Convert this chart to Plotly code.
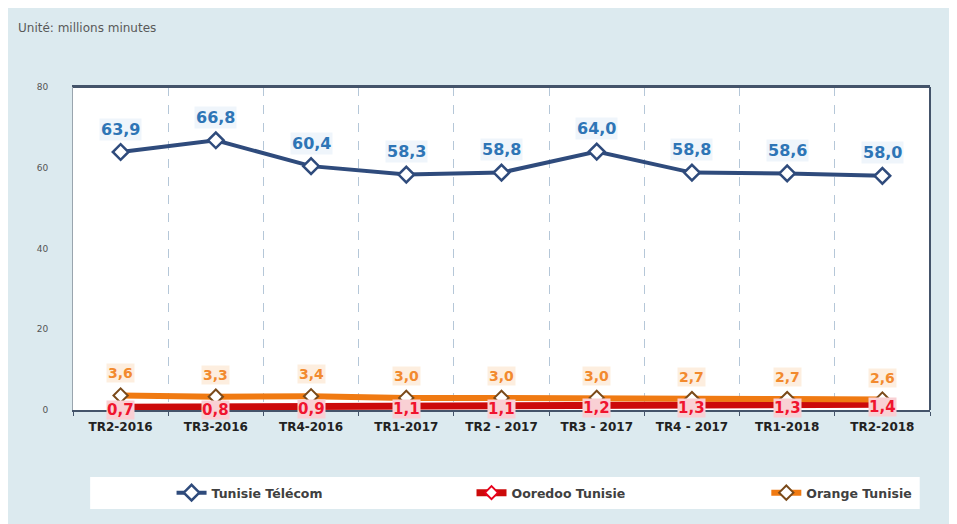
import plotly.graph_objects as go

categories = ["TR2-2016", "TR3-2016", "TR4-2016", "TR1-2017", "TR2 - 2017",
              "TR3 - 2017", "TR4 - 2017", "TR1-2018", "TR2-2018"]
tunisie_telecom = [63.9, 66.8, 60.4, 58.3, 58.8, 64.0, 58.8, 58.6, 58.0]
ooredoo = [0.7, 0.8, 0.9, 1.1, 1.1, 1.2, 1.3, 1.3, 1.4]
orange = [3.6, 3.3, 3.4, 3.0, 3.0, 3.0, 2.7, 2.7, 2.6]
y_ticks = [0, 20, 40, 60, 80]


def fr(v):
    return f"{v:.1f}".replace(".", ",")


fig = go.Figure()

fig.add_trace(go.Scatter(
    x=categories, y=ooredoo, name="Ooredoo Tunisie", mode="lines+markers",
    line=dict(color="#cc0a0a", width=7), legend="legend2",
    marker=dict(symbol="diamond", size=10, color="white",
                line=dict(color="#e8001c", width=2)),
))
fig.add_trace(go.Scatter(
    x=categories, y=orange, name="Orange Tunisie", mode="lines+markers",
    line=dict(color="#f07a12", width=6), legend="legend3",
    marker=dict(symbol="diamond", size=11, color="white",
                line=dict(color="#7a4a1a", width=2)),
))
fig.add_trace(go.Scatter(
    x=categories, y=tunisie_telecom, name="Tunisie Télécom", mode="lines+markers",
    line=dict(color="#2f4b7c", width=4), legend="legend",
    marker=dict(symbol="diamond", size=12, color="white",
                line=dict(color="#2f4b7c", width=2.5)),
))

annotations = []
for c, v in zip(categories, tunisie_telecom):
    annotations.append(dict(x=c, y=v, text=fr(v), showarrow=False, yshift=23,
                            font=dict(family="Verdana, DejaVu Sans", size=16, color="#2e75b6", weight="bold"),
                            bgcolor="rgba(235,243,250,0.8)"))
for c, v in zip(categories, orange):
    annotations.append(dict(x=c, y=v, text=fr(v), showarrow=False, yshift=22,
                            font=dict(family="Verdana, DejaVu Sans", size=14, color="#f28a2e", weight="bold"),
                            bgcolor="rgba(253,236,220,0.9)"))
for c, v in zip(categories, ooredoo):
    annotations.append(dict(x=c, y=v, text=fr(v), showarrow=False, yshift=-3,
                            font=dict(family="Verdana, DejaVu Sans", size=15, color="#f0142e", weight="bold"),
                            bgcolor="#f9d0d4", borderpad=0))

annotations.append(dict(text="Unité: millions minutes", xref="paper", yref="paper",
                        x=-0.066, y=1.183, xanchor="left", yanchor="middle", showarrow=False,
                        font=dict(family="DejaVu Sans", size=12, color="#595959")))

legend_common = dict(orientation="h", xanchor="left", y=-0.257, yanchor="middle",
                     bgcolor="rgba(0,0,0,0)",
                     font=dict(family="DejaVu Sans", size=12.5, color="#404040", weight="bold"),
                     itemwidth=30)

fig.update_layout(
    width=957, height=524,
    margin=dict(l=65, r=35, t=79, b=122),
    paper_bgcolor="#dceaef",
    plot_bgcolor="white",
    showlegend=True,
    legend=dict(x=0.115, **legend_common),
    legend2=dict(x=0.465, **legend_common),
    legend3=dict(x=0.809, **legend_common),
    annotations=annotations,
    shapes=[
        dict(type="rect", xref="paper", yref="paper", x0=0.02, x1=0.988, y0=-0.3065, y1=-0.2074,
             fillcolor="white", line=dict(width=0), layer="below"),
    ],
)

fig.update_xaxes(
    type="category", range=[-0.5, 8.5],
    showgrid=True, gridcolor="#b5c7d8", griddash="dash", gridwidth=1,
    tickson="boundaries", ticks="outside", ticklen=4, tickcolor="#44546a",
    showline=True, linecolor="#44546a", linewidth=2, mirror=True,
    ticklabelstandoff=5,
    tickfont=dict(family="Verdana, DejaVu Sans", size=12, color="#222222", weight="bold"),
)
fig.update_yaxes(
    range=[0, 80], tickvals=y_ticks, showgrid=False, zeroline=False,
    showline=True, linecolor="#9aa5ae", linewidth=1, mirror=False,
    ticks="", ticklabelstandoff=22,
    tickfont=dict(family="DejaVu Sans", size=9, color="#555555"),
)
fig.add_shape(type="line", xref="paper", yref="paper", x0=0, x1=1, y0=1, y1=1,
              line=dict(color="#44546a", width=2))
fig.add_shape(type="line", xref="paper", yref="paper", x0=1, x1=1, y0=0, y1=1,
              line=dict(color="#44546a", width=2))

fig.write_html("out.html")
